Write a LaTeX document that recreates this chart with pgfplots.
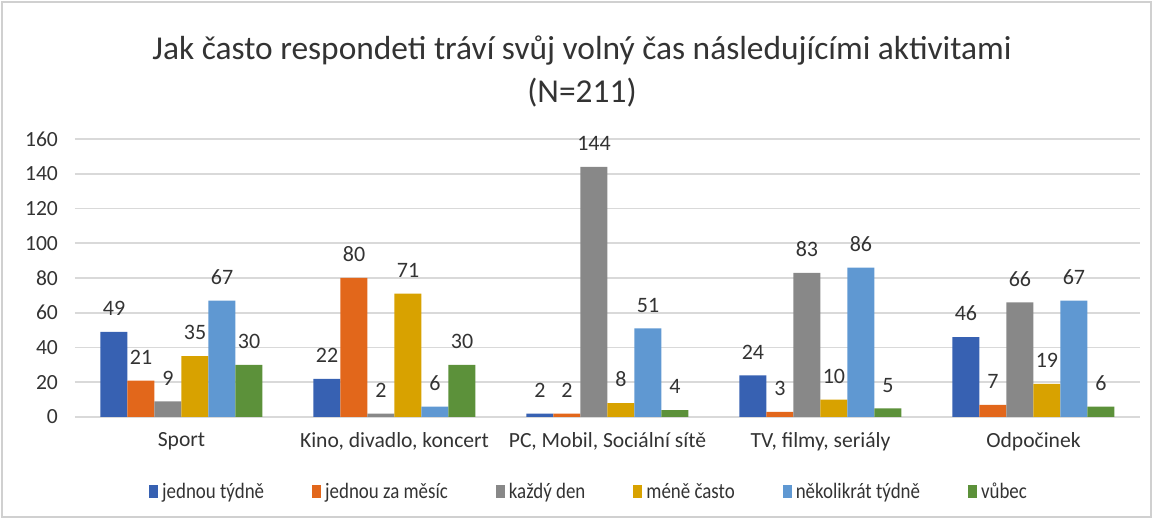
\documentclass[border=0pt]{standalone}
\usepackage{pgfplots}
\pgfplotsset{compat=1.18}
\usepackage{fontspec}
\setmainfont{Carlito}
\newfontfamily\legfont[FakeStretch=0.86]{Carlito}
\definecolor{txt}{HTML}{333333}
\definecolor{gridc}{HTML}{D9D9D9}
\definecolor{frame}{HTML}{D0D0D0}
\definecolor{cB}{RGB}{55,97,178}
\definecolor{cO}{RGB}{226,103,27}
\definecolor{cG}{RGB}{136,136,136}
\definecolor{cY}{RGB}{216,162,0}
\definecolor{cL}{RGB}{95,152,210}
\definecolor{cV}{RGB}{92,145,58}
\begin{document}
\begin{tikzpicture}[x=1pt,y=1pt]
\useasboundingbox (-37.5,-51) rectangle (539,208.5);
\draw[frame,line width=0.8pt] (-36.5,-50) rectangle (538,207.5);
\begin{axis}[
  at={(0,0)}, anchor=south west,
  scale only axis, width=532.5pt, height=139pt,
  ybar=0pt, bar width=13.5pt,
  xmin=-0.5, xmax=4.5, ymin=0, ymax=160,
  xtick=data,
  xticklabels={Sport, {Kino, divadlo, koncert}, {PC, Mobil, Sociální sítě}, {TV, filmy, seriály}, Odpočinek},
  ytick={0,20,...,160},
  axis x line*=bottom, axis y line*=left,
  y axis line style={draw=none},
  x axis line style={gridc, line width=0.8pt, -},
  major tick length=0pt,
  ymajorgrids, grid style={gridc, line width=0.8pt},
  tick label style={font=\fontsize{10.8}{12}\selectfont, text=txt},
  /pgf/number format/assume math mode=true,
  yticklabel style={xshift=-5pt},
  xticklabel style={yshift=-4pt},
  nodes near coords,
  every node near coord/.append style={font=\fontsize{11}{12}\selectfont, text=txt, anchor=south, yshift=4.5pt},
  legend columns=6,
  legend style={at={(0.4836,-0.27)}, anchor=center, draw=none, fill=none,
    font=\legfont\fontsize{11}{12}\selectfont, text=txt, /tikz/every even column/.append style={column sep=22pt}},
  legend image code/.code={\fill[#1] (1pt,-3pt) rectangle (5.5pt,3.5pt);},
]
\addplot[draw=none, fill=cB] coordinates {(0,49) (1,22) (2,2) (3,24) (4,46)};
\addplot[draw=none, fill=cO] coordinates {(0,21) (1,80) (2,2) (3,3) (4,7)};
\addplot[draw=none, fill=cG] coordinates {(0,9) (1,2) (2,144) (3,83) (4,66)};
\addplot[draw=none, fill=cY] coordinates {(0,35) (1,71) (2,8) (3,10) (4,19)};
\addplot[draw=none, fill=cL] coordinates {(0,67) (1,6) (2,51) (3,86) (4,67)};
\addplot[draw=none, fill=cV] coordinates {(0,30) (1,30) (2,4) (3,5) (4,6)};
\legend{jednou týdně, jednou za měsíc, každý den, méně často, několikrát týdně, vůbec}
\end{axis}
\node[text=txt, align=center, font=\fontsize{16.7}{21.5}\selectfont] at (253.5,172.75) {Jak často respondeti tráví svůj volný čas následujícími aktivitami\\(N=211)};
\end{tikzpicture}
\end{document}
